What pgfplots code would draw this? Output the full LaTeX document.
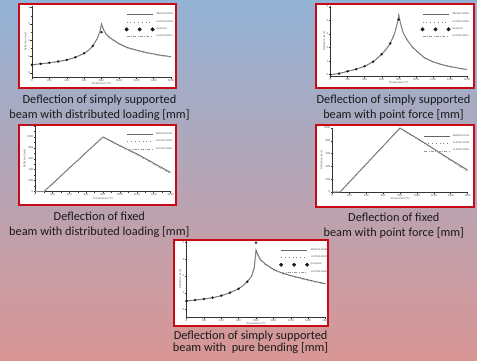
\documentclass[border=0pt]{standalone}
\usepackage{fontspec}
\setmainfont{Carlito}
\usepackage{pgfplots}
\pgfplotsset{compat=1.18}
\definecolor{frame}{RGB}{200,10,20}
\definecolor{bgtop}{RGB}{147,179,214}
\definecolor{bgbot}{RGB}{217,150,149}
\pgfplotsset{
 minichart/.style={
  scale only axis, axis x line*=bottom, axis y line*=left,
  xmin=0, xmax=1600, xtick={0,200,...,1600}, minor x tick num=1,
  tick align=outside, major tick length=1.6pt, minor tick length=1pt,
  tick style={black!80, line width=0.35pt}, axis line style={black!80, line width=0.45pt},
  ticklabel style={font=\fontsize{3}{3.4}\selectfont, text=black!65, inner sep=0.6pt},
  label style={font=\fontsize{2.8}{3.2}\selectfont, text=black!65, inner sep=0.4pt},
  xlabel={Temperature (°C)}, ylabel={Deflection [mm]},
  /pgf/number format/assume math mode=true,
  scaled ticks=false, /pgf/number format/1000 sep={},
  legend style={draw=none, fill=none, font=\fontsize{2.7}{3.4}\selectfont, text=black!65,
    inner sep=0pt, anchor=north east, at={(1.03,0.93)}, cells={anchor=west}, row sep=0pt},
  legend image code/.code={\draw[mark repeat=1,##1] plot coordinates {(0pt,0pt) (13pt,0pt) (26pt,0pt)};},
  clip=false,
 },
 abaqus/.style={black!60, line width=0.85pt, no marks},
 lsdyna/.style={black!50, line width=0.75pt, no marks, dash pattern=on 0.8pt off 3pt},
 analytical/.style={only marks, mark=*, mark size=1.0pt, black!90,
   legend image code/.code={\draw[mark repeat=1,##1,mark size=1.8pt] plot coordinates {(0pt,0pt) (13pt,0pt) (26pt,0pt)};}},
 shell/.style={black!40, line width=0.55pt, no marks, dash pattern=on 3pt off 1.5pt on 0.6pt off 1.5pt},
}
\begin{document}
\begin{tikzpicture}
\shade[top color=bgtop, bottom color=bgbot] (0,0) rectangle (477pt,-360pt);
\path[use as bounding box] (0,0) rectangle (477pt,-360pt);
% frames
\draw[fill=white, draw=frame, line width=2pt] (19pt,-4pt) rectangle (176pt,-88pt);
\draw[fill=white, draw=frame, line width=2pt] (316pt,-4pt) rectangle (474pt,-88pt);
\draw[fill=white, draw=frame, line width=2pt] (19pt,-124.5pt) rectangle (176pt,-205pt);
\draw[fill=white, draw=frame, line width=2pt] (316pt,-125pt) rectangle (474pt,-206.5pt);
\draw[fill=white, draw=frame, line width=2pt] (174pt,-240pt) rectangle (328pt,-326pt);

% chart 1: simply supported, distributed loading
\begin{axis}[minichart, at={(32pt,-6pt)}, anchor=north west, width=139pt, height=71pt,
  ymin=-0.25, ymax=4.1, ytick={0,1,2,3,4}, minor y tick num=1]
\addplot[abaqus] coordinates {(0,0.5) (100,0.56) (200,0.62) (300,0.7) (400,0.8) (500,0.96) (600,1.2) (650,1.38) (700,1.66) (750,2.1) (780,2.5) (800,3.0) (820,2.7) (850,2.4) (900,2.15) (1000,1.8) (1100,1.55) (1200,1.4) (1300,1.27) (1400,1.16) (1500,1.07) (1600,1.0)};
\addlegendentry{ABAQUS SOLID}
\addplot[lsdyna] coordinates {(0,0.5) (100,0.56) (200,0.62) (300,0.7) (400,0.8) (500,0.96) (600,1.2) (650,1.38) (700,1.66) (750,2.1) (780,2.5) (800,2.95) (820,2.68) (850,2.38) (900,2.13) (1000,1.78) (1100,1.54) (1200,1.39) (1300,1.26) (1400,1.15) (1500,1.06) (1600,0.99)};
\addlegendentry{LS-DYNA SOLID}
\addplot[analytical] coordinates {(0,0.5) (100,0.56) (200,0.62) (300,0.7) (400,0.8) (500,0.96) (600,1.2) (700,1.66) (800,2.5)};
\addlegendentry{Analytical}
\addplot[shell] coordinates {(0,0.48) (100,0.54) (200,0.6) (300,0.68) (400,0.78) (500,0.94) (600,1.18) (650,1.36) (700,1.63) (750,2.05) (780,2.45) (800,2.9) (820,2.65) (850,2.35) (900,2.1) (1000,1.76) (1100,1.52) (1200,1.37) (1300,1.24) (1400,1.13) (1500,1.04) (1600,0.97)};
\addlegendentry{LS-DYNA SHELL}
\end{axis}

% chart 2: simply supported, point force
\begin{axis}[minichart, at={(330.5pt,-6pt)}, anchor=north west, width=136.5pt, height=70pt,
  ymin=-0.1, ymax=5.05, ytick={0,1,2,3,4,5}, minor y tick num=1]
\addplot[abaqus] coordinates {(0,0) (100,0.08) (200,0.25) (300,0.4) (400,0.62) (500,0.95) (600,1.5) (650,1.85) (700,2.3) (750,3.0) (780,3.7) (800,4.4) (820,3.8) (850,3.1) (900,2.55) (950,2.1) (1000,1.8) (1100,1.25) (1200,0.95) (1300,0.75) (1400,0.6) (1500,0.48) (1600,0.38)};
\addlegendentry{ABAQUS SOLID}
\addplot[lsdyna] coordinates {(0,0) (100,0.08) (200,0.25) (300,0.4) (400,0.62) (500,0.95) (600,1.5) (650,1.85) (700,2.3) (750,3.0) (780,3.68) (800,4.35) (820,3.78) (850,3.08) (900,2.53) (950,2.08) (1000,1.78) (1100,1.24) (1200,0.94) (1300,0.74) (1400,0.59) (1500,0.47) (1600,0.37)};
\addlegendentry{LS-DYNA SOLID}
\addplot[analytical] coordinates {(0,0) (100,0.08) (200,0.25) (300,0.4) (400,0.62) (500,0.95) (600,1.5) (700,2.3) (800,4.05)};
\addlegendentry{Analytical}
\addplot[shell] coordinates {(0,0) (100,0.07) (200,0.23) (300,0.38) (400,0.6) (500,0.92) (600,1.46) (650,1.8) (700,2.25) (750,2.95) (780,3.6) (800,4.3) (820,3.72) (850,3.05) (900,2.5) (950,2.05) (1000,1.75) (1100,1.22) (1200,0.92) (1300,0.72) (1400,0.57) (1500,0.45) (1600,0.35)};
\addlegendentry{LS-DYNA SHELL}
\end{axis}

% chart 3: fixed, distributed loading
\begin{axis}[minichart, at={(35.5pt,-126pt)}, anchor=north west, width=135pt, height=65.5pt,
  ymin=0, ymax=1200, ytick={0,200,...,1200}, minor y tick num=1]
\addplot[abaqus] coordinates {(0,0) (100,0) (200,140) (300,285) (400,430) (500,570) (600,715) (700,858) (800,1000) (900,920) (1000,840) (1100,765) (1200,690) (1300,605) (1400,520) (1500,435) (1600,350)};
\addlegendentry{ABAQUS SOLID}
\addplot[lsdyna] coordinates {(0,0) (100,0) (200,140) (300,285) (400,430) (500,570) (600,715) (700,858) (800,995) (900,915) (1000,835) (1100,760) (1200,685) (1300,600) (1400,515) (1500,430) (1600,345)};
\addlegendentry{LS-DYNA SOLID}
\addplot[shell] coordinates {(0,0) (100,0) (200,135) (300,280) (400,425) (500,565) (600,710) (700,852) (800,992) (900,910) (1000,830) (1100,752) (1200,675) (1300,590) (1400,500) (1500,410) (1600,330)};
\addlegendentry{LS-DYNA SHELL}
\end{axis}

% chart 4: fixed, point force
\begin{axis}[minichart, at={(332.5pt,-128pt)}, anchor=north west, width=135pt, height=64pt,
  ymin=0, ymax=1000, ytick={0,200,...,1000}, minor y tick num=1]
\addplot[abaqus] coordinates {(0,0) (90,0) (200,155) (300,296) (400,437) (500,578) (600,718) (700,859) (800,1000) (900,920) (1000,840) (1100,758) (1200,675) (1300,590) (1400,505) (1500,425) (1600,345)};
\addlegendentry{ABAQUS SOLID}
\addplot[lsdyna] coordinates {(0,0) (90,0) (200,155) (300,296) (400,437) (500,578) (600,718) (700,859) (800,995) (900,915) (1000,835) (1100,752) (1200,670) (1300,585) (1400,500) (1500,418) (1600,335)};
\addlegendentry{LS-DYNA SOLID}
\addplot[shell] coordinates {(0,0) (90,0) (200,151) (300,292) (400,433) (500,573) (600,713) (700,853) (800,990) (900,910) (1000,830) (1100,748) (1200,665) (1300,578) (1400,490) (1500,405) (1600,320)};
\addlegendentry{LS-DYNA SHELL}
\end{axis}

% chart 5: simply supported, pure bending
\begin{axis}[minichart, at={(186.5pt,-241pt)}, anchor=north west, width=139pt, height=76pt,
  ymin=-0.46, ymax=4.1, ytick={0,1,2,3,4}, minor y tick num=1]
\addplot[abaqus] coordinates {(0,0.5) (100,0.56) (200,0.62) (300,0.7) (400,0.82) (500,1.0) (600,1.24) (650,1.42) (700,1.66) (750,2.0) (780,2.5) (800,3.56) (820,3.3) (850,3.0) (900,2.75) (1000,2.4) (1100,2.18) (1200,2.03) (1300,1.9) (1400,1.77) (1500,1.65) (1600,1.54)};
\addlegendentry{ABAQUS SOLID}
\addplot[lsdyna] coordinates {(0,0.5) (100,0.56) (200,0.62) (300,0.7) (400,0.82) (500,1.0) (600,1.24) (650,1.42) (700,1.66) (750,2.0) (780,2.48) (800,3.5) (820,3.26) (850,2.97) (900,2.72) (1000,2.38) (1100,2.16) (1200,2.01) (1300,1.88) (1400,1.75) (1500,1.63) (1600,1.52)};
\addlegendentry{LS-DYNA SOLID}
\addplot[analytical] coordinates {(0,0.5) (100,0.56) (200,0.62) (300,0.7) (400,0.82) (500,1.0) (600,1.24) (700,1.66) (800,4.0)};
\addlegendentry{Analytical}
\addplot[shell] coordinates {(0,0.48) (100,0.54) (200,0.6) (300,0.68) (400,0.8) (500,0.98) (600,1.22) (650,1.4) (700,1.63) (750,1.97) (780,2.45) (800,3.45) (820,3.22) (850,2.95) (900,2.7) (1000,2.36) (1100,2.14) (1200,1.99) (1300,1.86) (1400,1.73) (1500,1.61) (1600,1.5)};
\addlegendentry{LS-DYNA SHELL}
\end{axis}

% captions
\tikzset{captxt/.style={font=\fontsize{12.3}{14}\selectfont, text=black!90, anchor=base, inner sep=0pt}}
\node[captxt] at (99.5pt,-103.5pt) {Deflection of simply supported};
\node[captxt] at (99.5pt,-118.3pt) {beam with distributed loading [mm]};
\node[captxt] at (393.5pt,-103.5pt) {Deflection of simply supported};
\node[captxt] at (393.5pt,-118.3pt) {beam with point force [mm]};
\node[captxt] at (99.3pt,-220pt) {Deflection of fixed};
\node[captxt] at (99.3pt,-235pt) {beam with distributed loading [mm]};
\node[captxt] at (393.8pt,-221.7pt) {Deflection of fixed};
\node[captxt] at (393.8pt,-236.7pt) {beam with point force [mm]};
\node[captxt] at (250.6pt,-339pt) {Deflection of simply supported};
\node[captxt] at (250.6pt,-351.5pt) {beam with~~pure bending [mm]};
\end{tikzpicture}
\end{document}
